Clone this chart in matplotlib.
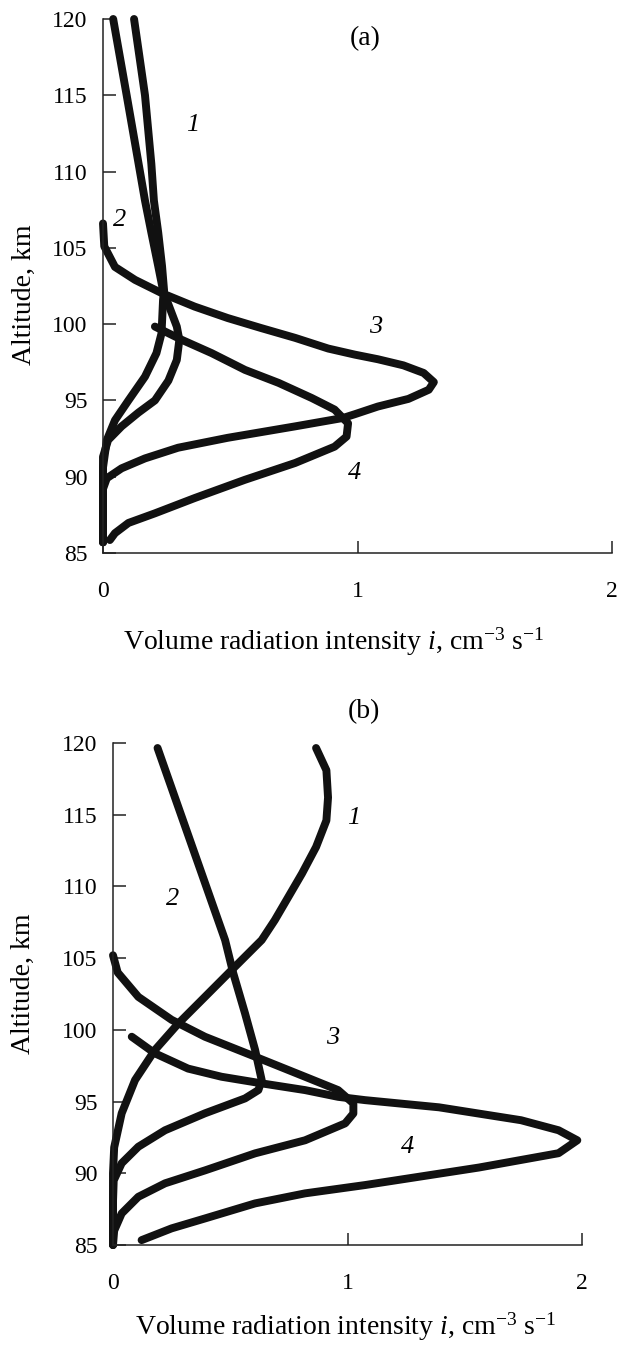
import matplotlib
matplotlib.use('Agg')
import matplotlib.pyplot as plt

plt.rcParams['font.family'] = ['Liberation Serif', 'DejaVu Serif']
plt.rcParams['mathtext.fontset'] = 'custom'
plt.rcParams['mathtext.rm'] = 'Liberation Serif'
plt.rcParams['mathtext.it'] = 'Liberation Serif:italic'

# panel (a) curves: intensity i, altitude km
a1_x = [0.122, 0.165, 0.19, 0.2, 0.217, 0.232, 0.24, 0.236, 0.23, 0.21, 0.165, 0.1, 0.047, 0.015, 0, 0]
a1_y = [120, 115, 110.5, 108.1, 106, 103.8, 102.2, 101.6, 99.4, 98.1, 96.56, 95, 93.7, 92.4, 90.6, 85.7]
a2_x = [0.04, 0.093, 0.14, 0.165, 0.19, 0.217, 0.236, 0.25, 0.29, 0.3, 0.29, 0.257, 0.204, 0.139, 0.073, 0.02, 0, 0]
a2_y = [120, 115, 110.5, 108.1, 106, 103.8, 102.2, 101.6, 99.84, 98.97, 97.65, 96.3, 95, 94.2, 93.3, 92.4, 91.3, 85.7]
a3_x = [0, 0.005, 0.047, 0.126, 0.23, 0.36, 0.49, 0.62, 0.755, 0.885, 0.99, 1.08, 1.18, 1.26, 1.3, 1.28, 1.2,
        1.08, 0.99, 0.943, 0.755, 0.49, 0.295, 0.165, 0.073, 0.015, 0, 0]
a3_y = [106.6, 105.1, 103.75, 102.9, 102.04, 101.15, 100.4, 99.75, 99.1, 98.4, 98.0, 97.7, 97.3, 96.8, 96.2, 95.7, 95.1,
        94.6, 94.1, 93.85, 93.3, 92.55, 91.9, 91.2, 90.55, 89.9, 89.2, 85.7]
a4_x = [0.204, 0.31, 0.427, 0.558, 0.69, 0.82, 0.91, 0.963, 0.957, 0.91, 0.755, 0.558, 0.36, 0.204, 0.1, 0.047, 0.027]
a4_y = [99.84, 98.97, 98.1, 97.0, 96.15, 95.16, 94.4, 93.5, 92.63, 91.97, 90.9, 89.8, 88.6, 87.6, 86.97, 86.3, 85.85]

# panel (b) curves
b1_x = [0.866, 0.91, 0.917, 0.91, 0.866, 0.806, 0.74, 0.69, 0.634, 0.506, 0.392, 0.279, 0.179, 0.094, 0.037, 0.005, 0, 0]
b1_y = [119.65, 118.1, 116.2, 114.6, 112.75, 110.9, 109.05, 107.65, 106.26, 104.17, 102.3, 100.45, 98.6, 96.5, 94.18,
        91.8, 90.0, 85]
b2_x = [0.19, 0.418, 0.478, 0.513, 0.563, 0.606, 0.634, 0.62, 0.563, 0.392, 0.222, 0.108, 0.037, 0.003, 0, 0]
b2_y = [119.65, 109.05, 106.26, 103.94, 101.15, 98.6, 96.5, 95.8, 95.22, 94.18, 93.0, 91.85, 90.7, 89.5, 88, 85]
b3_x = [0, 0.02, 0.108, 0.25, 0.392, 0.606, 0.819, 0.96, 1.025, 1.025, 0.99, 0.819, 0.606, 0.392, 0.222, 0.108,
        0.037, 0.005, 0]
b3_y = [105.2, 104.0, 102.3, 100.7, 99.52, 98.13, 96.73, 95.8, 94.87, 94.17, 93.48, 92.3, 91.39, 90.2, 89.3, 88.36,
        87.2, 86.0, 85]
b4_x = [0.08, 0.179, 0.32, 0.463, 0.634, 0.819, 0.96, 1.075, 1.39, 1.74, 1.9, 1.98, 1.9, 1.56, 1.075, 0.819, 0.606,
        0.392, 0.25, 0.122]
b4_y = [99.52, 98.36, 97.3, 96.73, 96.27, 95.8, 95.33, 95.1, 94.6, 93.7, 93.0, 92.3, 91.4, 90.4, 89.18, 88.6, 87.9,
        86.85, 86.16, 85.34]

# curve number labels (x, y, text)
a_labels = [(0.354, 113.05, '1'), (0.067, 106.8, '2'), (1.07, 99.8, '3'), (0.99, 90.25, '4')]
b_labels = [(1.028, 114.8, '1'), (0.256, 109.1, '2'), (0.938, 99.4, '3'), (1.254, 91.8, '4')]

xticks = [0, 1, 2]
yticks = [85, 90, 95, 100, 105, 110, 115, 120]

fig = plt.figure(figsize=(6.24, 13.47), dpi=100)
ax1 = fig.add_axes([103/624, 1-553/1347, 509/624, 534/1347])
ax2 = fig.add_axes([113/624, 1-1245/1347, 469/624, 502/1347])

xlab = 'Volume radiation intensity $i$, cm$^{-3}$ s$^{-1}$'
fs = 17
lfs = 20

def style(ax, labels, ylab_x, ylab_y, xlab_x, xlab_y):
    ax.set_xlim(0, 2)
    ax.set_ylim(85, 120)
    ax.set_xticks(xticks)
    ax.set_yticks(yticks)
    for s in ['top', 'right']:
        ax.spines[s].set_visible(False)
    for s in ['left', 'bottom']:
        ax.spines[s].set_linewidth(1.1)
        ax.spines[s].set_color('#222222')
    ax.tick_params(axis='both', direction='in', length=9, width=1.1, color='#222222', labelsize=fs)
    ax.tick_params(axis='x', pad=20)
    ax.tick_params(axis='y', pad=11)
    for x, y, t in labels:
        ax.text(x, y, t, fontsize=19, style='italic', ha='center', va='center')
    ax.set_ylabel('Altitude, km', fontsize=lfs)
    ax.yaxis.set_label_coords(ylab_x, ylab_y)
    ax.yaxis.label.set_va('center')
    ax.set_xlabel(xlab, fontsize=lfs)
    ax.xaxis.set_label_coords(xlab_x, xlab_y)
    ax.xaxis.label.set_va('center')

lw = 5.7
for xs, ys in [(a1_x, a1_y), (a2_x, a2_y), (a3_x, a3_y), (a4_x, a4_y)]:
    ax1.plot(xs, ys, color='#111111', lw=lw, solid_capstyle='round', solid_joinstyle='round', clip_on=False)
for xs, ys in [(b1_x, b1_y), (b2_x, b2_y), (b3_x, b3_y), (b4_x, b4_y)]:
    ax2.plot(xs, ys, color='#111111', lw=lw, solid_capstyle='round', solid_joinstyle='round', clip_on=False)

style(ax1, a_labels, -0.155, 0.483, (334-103)/509, -(642-553)/534)
style(ax2, b_labels, -0.19, 0.52, (346-113)/469, -(1327-1245)/502)

ax1.text(0.515, 0.964, '(a)', transform=ax1.transAxes, fontsize=lfs, ha='center', va='center')
ax2.text(0.535, 1.062, '(b)', transform=ax2.transAxes, fontsize=lfs, ha='center', va='center')

fig.savefig('out.png', dpi=100)
